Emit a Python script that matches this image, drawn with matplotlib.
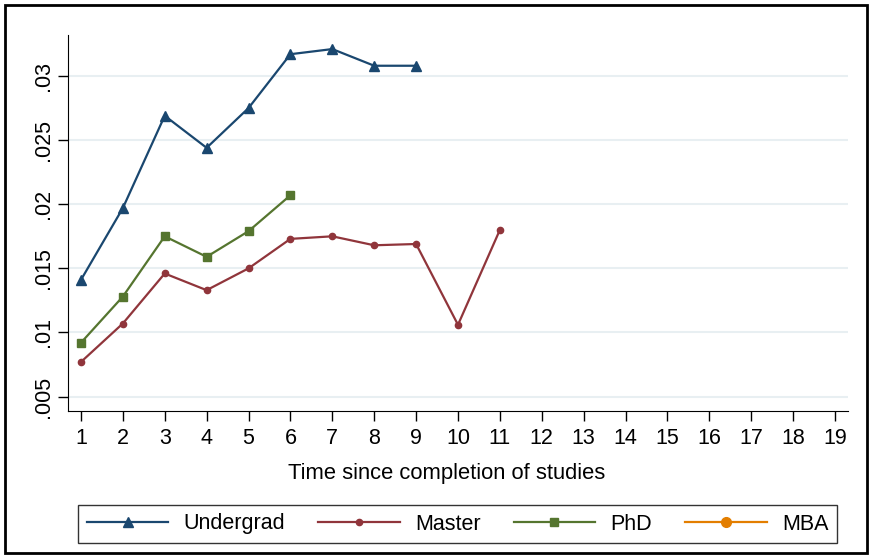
import matplotlib
matplotlib.use("Agg")
import matplotlib.pyplot as plt
from matplotlib.patches import Rectangle

plt.rcParams["font.family"] = ["Liberation Sans", "DejaVu Sans"]

# values
years = list(range(1, 20))
undergrad_x = [1, 2, 3, 4, 5, 6, 7, 8, 9]
undergrad_y = [0.0141, 0.0197, 0.0269, 0.0244, 0.0275, 0.0317, 0.0321, 0.0308, 0.0308]
master_x = [1, 2, 3, 4, 5, 6, 7, 8, 9, 10, 11]
master_y = [0.0077, 0.0107, 0.0146, 0.0133, 0.0150, 0.0173, 0.0175, 0.0168, 0.0169, 0.0106, 0.0180]
phd_x = [1, 2, 3, 4, 5, 6]
phd_y = [0.0092, 0.0128, 0.0175, 0.0159, 0.0179, 0.0207]
mba_x = []
mba_y = []
yticks = [0.005, 0.01, 0.015, 0.02, 0.025, 0.03]
ytick_labels = [".005", ".01", ".015", ".02", ".025", ".03"]


def main():
    fig = plt.figure(figsize=(8.72, 5.55), dpi=100)
    ax = fig.add_axes([0.0776, 0.2595, 0.8949, 0.6775])

    ax.plot(undergrad_x, undergrad_y, color="#1a476f", marker="^", ms=7.5, lw=1.6, label="Undergrad")
    ax.plot(master_x, master_y, color="#90353b", marker="o", ms=4.5, lw=1.6, label="Master")
    ax.plot(phd_x, phd_y, color="#55752f", marker="s", ms=6, lw=1.6, label="PhD")
    ax.plot(mba_x, mba_y, color="#e37e00", marker="o", ms=7, lw=1.6, label="MBA")

    ax.set_xlim(0.683, 19.31)
    ax.set_ylim(0.00388, 0.0332)
    ax.set_xticks(years)
    ax.set_yticks(yticks)
    ax.set_yticklabels(ytick_labels, rotation=90, va="center")
    ax.tick_params(axis="both", labelsize=15.5, length=7, width=1, color="black")
    ax.tick_params(axis="x", pad=5)
    ax.tick_params(axis="y", pad=3)
    ax.grid(axis="y", color="#e8eff2", lw=1.5)
    ax.set_axisbelow(True)
    for side in ["top", "right"]:
        ax.spines[side].set_visible(False)
    ax.set_xlabel("Time since completion of studies", fontsize=15.8)
    ax.xaxis.set_label_coords(0.486, -0.165)
    ax.xaxis.label.set_va("center")

    leg = fig.legend(
        loc="center",
        ncol=4,
        mode="expand",
        bbox_to_anchor=(78 / 872, 1 - 545 / 555, 759 / 872, 42 / 555),
        fontsize=15.5,
        handlelength=3.8,
        handletextpad=0.7,
        frameon=True,
        fancybox=False,
        borderaxespad=0,
    )
    leg.get_frame().set_edgecolor("black")
    leg.get_frame().set_linewidth(1)

    # outer border like the exported graph
    fig.patches.append(Rectangle((5 / 872, 2 / 555), 862 / 872, 548 / 555,
                                 transform=fig.transFigure, fill=False,
                                 edgecolor="black", lw=2))

    fig.savefig("out.png", dpi=100)


if __name__ == "__main__":
    main()
